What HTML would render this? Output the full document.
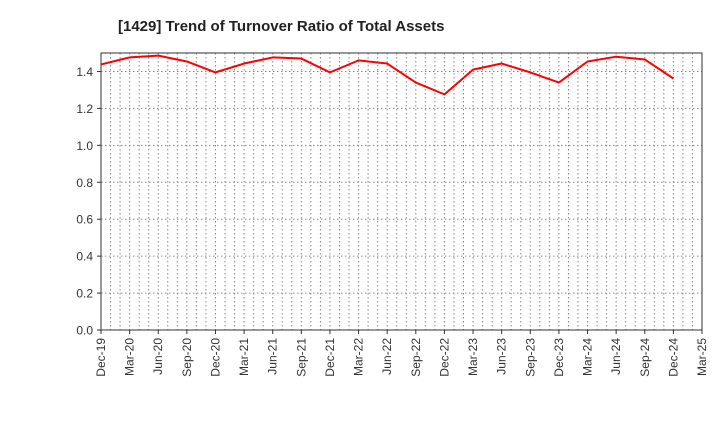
<!DOCTYPE html>
<html><head><meta charset="utf-8"><style>
body{margin:0;background:#fff;font-family:"Liberation Sans",sans-serif}
</style></head><body>
<svg id="chart" width="720" height="440" xmlns="http://www.w3.org/2000/svg"></svg>
<script>
const categories=["Dec-19","Mar-20","Jun-20","Sep-20","Dec-20","Mar-21","Jun-21","Sep-21","Dec-21","Mar-22","Jun-22","Sep-22","Dec-22","Mar-23","Jun-23","Sep-23","Dec-23","Mar-24","Jun-24","Sep-24","Dec-24","Mar-25"];
const values=[1.438,1.476,1.486,1.454,1.395,1.443,1.476,1.470,1.395,1.46,1.443,1.34,1.276,1.41,1.443,1.395,1.34,1.454,1.48,1.465,1.362];
const yTicks=[0,0.2,0.4,0.6,0.8,1.0,1.2,1.4];
const L=101,R=702,T=53,B=330,yMax=1.5;
const svg=document.getElementById('chart');const NS='http://www.w3.org/2000/svg';
const x=i=>L+i*(R-L)/(categories.length-1);
const y=v=>B-v/yMax*(B-T);
function mk(t,a,p){const e=document.createElementNS(NS,t);for(const k in a)e.setAttribute(k,a[k]);(p||svg).appendChild(e);return e;}
const title=mk('text',{x:118,y:31,'font-size':15,'font-weight':'bold',fill:'#222'});title.textContent='[1429]  Trend of Turnover Ratio of Total Assets';


const nMonths=(categories.length-1)*3;
for(let m=1;m<nMonths;m++){const xx=L+m*(R-L)/nMonths;const g=mk('line',{x1:xx,x2:xx,y1:T,y2:B,stroke:'#888','stroke-dasharray':'1.5,2.5','stroke-width':1});

}
yTicks.forEach(v=>{if(v>0){const g=mk('line',{x1:L,x2:R,y1:y(v),y2:y(v),stroke:'#888','stroke-dasharray':'1.5,2.5','stroke-width':1});

}
const t=mk('text',{x:L-8,y:y(v)+4.5,'text-anchor':'end','font-size':12,fill:'#333'});t.textContent=v.toFixed(1);


mk('line',{x1:L-4,x2:L,y1:y(v),y2:y(v),stroke:'#333'});});
const frame=mk('rect',{x:L,y:T,width:R-L,height:B-T,fill:'none',stroke:'#333','stroke-width':1});


categories.forEach((c,i)=>{mk('line',{x1:x(i),x2:x(i),y1:B,y2:B+4,stroke:'#333'});
const t=mk('text',{transform:`translate(${x(i)+4},${B+8}) rotate(-90)`,'text-anchor':'end','font-size':12,fill:'#333'});t.textContent=c;

});
const pl=mk('polyline',{points:values.map((v,i)=>x(i)+','+y(v)).join(' '),fill:'none',stroke:'#ff0000','stroke-width':2,'stroke-linejoin':'round'});


</script>
</body></html>
